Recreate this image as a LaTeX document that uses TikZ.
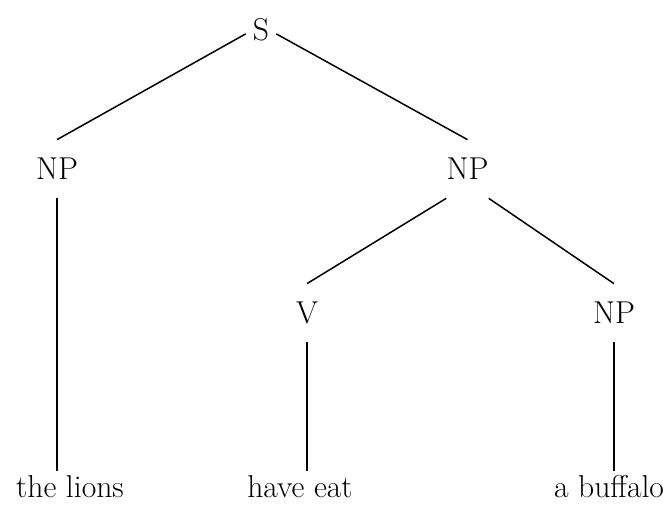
\documentclass[tikz,border=0pt]{standalone}
\begin{document}
\begin{tikzpicture}[scale=0.2]
    \tikzstyle{every node}+=[inner sep=0pt, font=\fontsize{18}{22}\selectfont]
    \tikzstyle{cat}=[minimum width=17pt, minimum height=33pt]
    \tikzstyle{branch}=[black, line width=0.85pt]
    \useasboundingbox (0,0) rectangle (66.3,-51.8);
    \node [cat] (s) at (26.1,-2.95) {S};
    \node [cat] (np1) at (5.7,-16.9) {NP};
    \node [cat] (np2) at (46.75,-16.9) {NP};
    \node [cat] (v) at (30.7,-31.3) {V};
    \node [cat] (np3) at (61.4,-31.3) {NP};
    \node [anchor=base] (lions) at (7.0,-49.8) {the lions};
    \node [anchor=base] (eat) at (30.0,-49.8) {have eat};
    \node [anchor=base] (buffalo) at (60.9,-49.8) {a buffalo};
    \draw [branch] (s.196) -- (np1.north);
    \draw [branch] (s.344) -- (np2.north);
    \draw [branch] (np2.south west) -- (v.north);
    \draw [branch] (np2.south east) -- (np3.north);
    \draw [branch, shorten >=2.5pt] (np1.south) -- (np1.south |- lions.north);
    \draw [branch, shorten >=2.5pt] (v.south) -- (v.south |- eat.north);
    \draw [branch, shorten >=2.5pt] (np3.south) -- (np3.south |- buffalo.north);
\end{tikzpicture}
\end{document}
